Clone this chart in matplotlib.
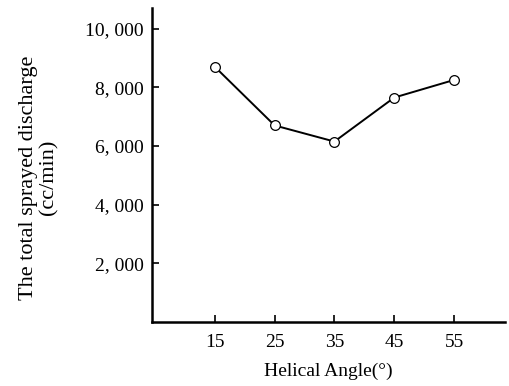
import numpy as np
import matplotlib.pyplot as plt
from matplotlib.ticker import FuncFormatter

# Data
helical_angle = [15, 25, 35, 45, 55]
discharge = [8700, 6700, 6150, 7650, 8250]

x_ticks = [15, 25, 35, 45, 55]
y_ticks = [2000, 4000, 6000, 8000, 10000]

plt.rcParams["font.family"] = ["Liberation Serif", "DejaVu Serif"]

fig = plt.figure(figsize=(5.1, 3.86), dpi=100)
ax = fig.add_axes([0.298, 0.166, 0.692, 0.813])

ax.plot(helical_angle, discharge, color="black", linewidth=1.4,
        marker="o", markersize=7, markerfacecolor="white",
        markeredgecolor="black", markeredgewidth=0.9)

ax.set_xlim(4.5, 63.5)
ax.set_ylim(0, 10700)
ax.set_xticks(x_ticks)
ax.set_yticks(y_ticks)
ax.yaxis.set_major_formatter(FuncFormatter(lambda v, p: f"{int(v):,}".replace(",", ", ")))

for side in ["top", "right"]:
    ax.spines[side].set_visible(False)
for side in ["left", "bottom"]:
    ax.spines[side].set_linewidth(1.8)

ax.tick_params(axis="both", direction="in", length=5, width=1.2, labelsize=14)
ax.tick_params(axis="y", pad=6)
ax.tick_params(axis="x", pad=9)

ax.set_xlabel("Helical Angle(°)", fontsize=14, labelpad=8)
ax.set_ylabel("The total sprayed discharge\n(cc/min)", fontsize=16, labelpad=8,
              linespacing=1.05)
ax.yaxis.set_label_coords(-0.265, 0.46)

fig.savefig("out.png", dpi=100)
